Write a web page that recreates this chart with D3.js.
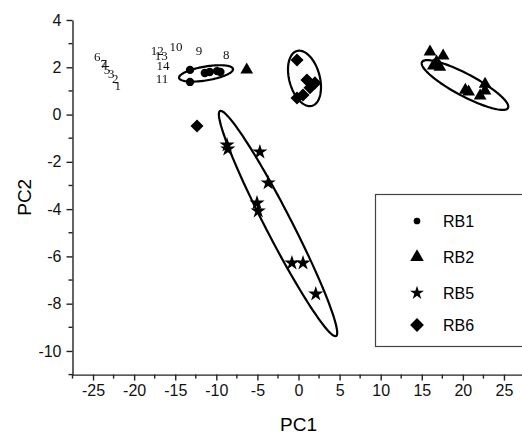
<!DOCTYPE html>
<html>
<head>
<meta charset="utf-8">
<script src="https://cdn.jsdelivr.net/npm/d3@7"></script>
<style>
  body { margin: 0; background: #fff; }
  svg { display: block; }
  .axis text { font-family: "Liberation Sans", Arial, sans-serif; font-size: 16px; fill: #111; }
  .axis path, .axis line { stroke: #222; stroke-width: 1.4; }
</style>
</head>
<body>
<div id="chart"></div>
<script>
// scores (PC1, PC2)
var rb1 = [[-13.2, 1.89], [-13.2, 1.38], [-11.4, 1.76], [-10.8, 1.80], [-9.9, 1.84], [-9.5, 1.80]];
var rb2 = [[-6.3, 1.89], [16.0, 2.65], [17.6, 2.48], [16.8, 2.23], [16.4, 2.06], [17.2, 2.01],
           [20.3, 1.04], [20.7, 0.96], [22.7, 1.29], [22.7, 1.00], [22.1, 0.79]];
var rb5 = [[-8.7, -1.29], [-8.6, -1.46], [-4.7, -1.58], [-3.7, -2.89], [-5.05, -3.74],
           [-4.9, -4.08], [-0.8, -6.28], [0.55, -6.28], [2.1, -7.59]];
var rb6 = [[-0.18, 2.31], [1.03, 1.46], [2.0, 1.34], [1.4, 1.13], [-0.18, 0.70], [0.55, 0.83],
           [-12.35, -0.48]];

// sample number labels
var numLabels = ["6", "7", "4", "5", "3", "2", "1", "12", "13", "10", "9", "8", "14", "11"];
var numX = [-24.5, -23.7, -23.6, -23.3, -22.8, -22.3, -22.0, -17.2, -16.7, -14.9, -12.1, -8.8, -16.5, -16.6];
var numY = [2.44, 2.18, 2.12, 1.89, 1.72, 1.51, 1.25, 2.73, 2.52, 2.86, 2.73, 2.56, 2.06, 1.51];

// group ellipses: centre, semi-axis a, semi-axis b (data units)
var ellipseCenters = [[-11.25, 1.74], [0.73, 1.53], [20.26, 1.25], [-2.49, -4.61]];
var ellipseA = [[3.28, 0.19], [0.91, -1.16], [5.23, -0.97], [7.06, -4.76]];
var ellipseB = [[0.14, -0.29], [1.79, 0.17], [-0.63, -0.41], [1.41, 0.25]];

var xTicks = [-25, -20, -15, -10, -5, 0, 5, 10, 15, 20, 25];
var xMinor = [-27.5, -22.5, -17.5, -12.5, -7.5, -2.5, 2.5, 7.5, 12.5, 17.5, 22.5];
var yTicks = [-10, -8, -6, -4, -2, 0, 2, 4];
var yMinor = [-11, -9, -7, -5, -3, -1, 1, 3];

var groups = ["RB1", "RB2", "RB5", "RB6"];

var total_width = 522, total_height = 435;

var svg = d3.select("#chart").append("svg")
    .attr("width", total_width)
    .attr("height", total_height);

// no-op filter so the small serif numbers render in grey scale
svg.append("defs").append("filter")
    .attr("id", "flat")
  .append("feOffset")
    .attr("dx", 0).attr("dy", 0);

var x = d3.scaleLinear().domain([-27.5, 27.5]).range([72.5, 524.5]);
var y = d3.scaleLinear().domain([-11, 4]).range([374.6, 20]);

// axes
var xAxis = svg.append("g")
    .attr("class", "axis")
    .attr("transform", "translate(0," + y(-11) + ")")
    .call(d3.axisBottom(x).tickValues(xTicks).tickSize(6).tickSizeOuter(0).tickPadding(4));

xAxis.selectAll(".minor")
    .data(xMinor).enter()
    .append("line")
    .attr("class", "minor")
    .attr("x1", d => x(d)).attr("x2", d => x(d))
    .attr("y1", 0).attr("y2", 4);

var yAxis = svg.append("g")
    .attr("class", "axis")
    .attr("transform", "translate(" + x(-27.5) + ",0)")
    .call(d3.axisLeft(y).tickValues(yTicks).tickSize(6).tickSizeOuter(0).tickPadding(5));

yAxis.selectAll(".minor")
    .data(yMinor).enter()
    .append("line")
    .attr("class", "minor")
    .attr("y1", d => y(d)).attr("y2", d => y(d))
    .attr("x1", 0).attr("x2", -4);

// plain hyphen minus like the original
svg.selectAll(".axis .tick text").text(d => String(d));

// axis titles
svg.append("text")
    .attr("x", x(0))
    .attr("y", 424)
    .attr("text-anchor", "middle")
    .attr("dy", "0.35em")
    .style("font-family", "Liberation Sans, Arial, sans-serif")
    .style("font-size", "19px")
    .text("PC1");

svg.append("text")
    .attr("transform", "translate(24," + y(-3.5) + ") rotate(-90)")
    .attr("text-anchor", "middle")
    .attr("dy", "0.35em")
    .style("font-family", "Liberation Sans, Arial, sans-serif")
    .style("font-size", "19px")
    .text("PC2");

// ellipses
var ellipseLine = d3.line()
    .x(d => x(d[0]))
    .y(d => y(d[1]))
    .curve(d3.curveLinearClosed);

ellipseCenters.forEach(function(c, i) {
  var a = ellipseA[i], b = ellipseB[i];
  var pts = d3.range(0, 2 * Math.PI, Math.PI / 60).map(function(t) {
    return [c[0] + a[0] * Math.cos(t) + b[0] * Math.sin(t),
            c[1] + a[1] * Math.cos(t) + b[1] * Math.sin(t)];
  });
  svg.append("path")
      .attr("d", ellipseLine(pts))
      .attr("fill", "none")
      .attr("stroke", "#000")
      .attr("stroke-width", 2.2);
});

// symbols
var sym = {
  RB1: d3.symbol().type(d3.symbolCircle).size(55),
  RB2: d3.symbol().type(d3.symbolTriangle).size(70),
  RB5: d3.symbol().type(d3.symbolStar).size(72),
  RB6: d3.symbol().type(d3.symbolSquare).size(85)
};
var rot = { RB1: 0, RB2: 0, RB5: 0, RB6: 45 };

function drawGroup(data, name) {
  svg.append("g").selectAll("path")
      .data(data).enter()
      .append("path")
      .attr("d", sym[name])
      .attr("transform", d => "translate(" + x(d[0]) + "," + y(d[1]) + ") rotate(" + rot[name] + ")")
      .attr("fill", "#000");
}
drawGroup(rb1, "RB1");
drawGroup(rb2, "RB2");
drawGroup(rb5, "RB5");
drawGroup(rb6, "RB6");

// numbers
svg.append("g")
    .attr("filter", "url(#flat)")
  .selectAll("text")
    .data(numLabels).enter()
    .append("text")
    .attr("x", (d, i) => x(numX[i]))
    .attr("y", (d, i) => y(numY[i]))
    .attr("dy", "0.35em")
    .attr("text-anchor", "middle")
    .attr("fill", "#111")
    .style("font-family", "Liberation Serif, Times New Roman, serif")
    .style("font-size", "13px")
    .text(d => d);

// legend
var legend = svg.append("g");
legend.append("rect")
    .attr("x", 375.5).attr("y", 194.5)
    .attr("width", 160).attr("height", 152)
    .attr("fill", "#fff")
    .attr("stroke", "#444")
    .attr("stroke-width", 1.2);

var legendY = [221, 257, 293, 325];
var legendSize = { RB1: 35, RB2: 80, RB5: 60, RB6: 95 };
groups.forEach(function(g, i) {
  legend.append("path")
      .attr("d", d3.symbol().type(sym[g].type()).size(legendSize[g]))
      .attr("transform", "translate(417," + legendY[i] + ") rotate(" + rot[g] + ")")
      .attr("fill", "#000");
  legend.append("text")
      .attr("x", 443)
      .attr("y", legendY[i])
      .attr("dy", "0.35em")
      .style("font-family", "Liberation Sans, Arial, sans-serif")
      .style("font-size", "16px")
      .text(g);
});
</script>
</body>
</html>
